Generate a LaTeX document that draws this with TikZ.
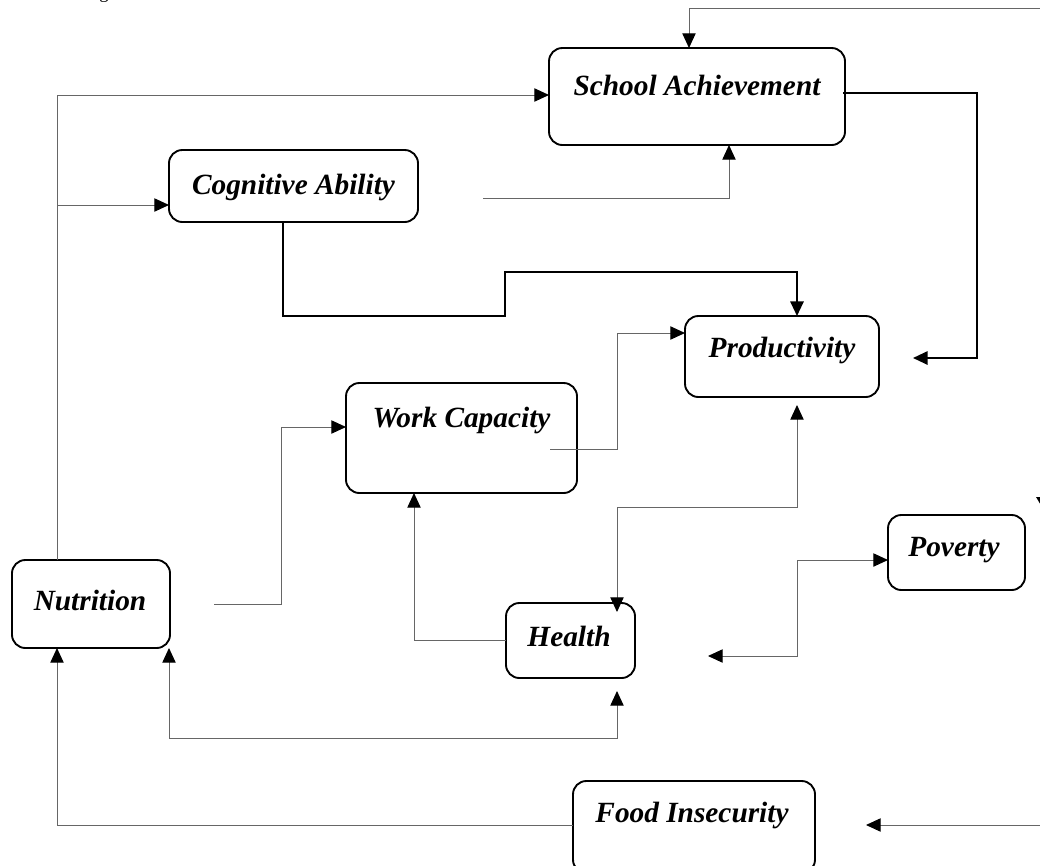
\documentclass[tikz,border=0pt]{standalone}
\usepackage{fontspec}
\setmainfont{Liberation Serif}
\usetikzlibrary{arrows.meta}
\begin{document}
\begin{tikzpicture}[x=0.75pt,y=-0.75pt,
  boxnode/.style={draw=black,line width=1.4pt,rounded corners=10pt,inner sep=0pt,outer sep=0pt},
  lbl/.style={font=\fontsize{22}{26}\selectfont\bfseries\itshape,inner sep=0pt},
  tipp/.style={-{Triangle[length=11pt,width=10pt,color=black]}},
  tipb/.style={{Triangle[length=11pt,width=10pt,color=black]}-{Triangle[length=11pt,width=10pt,color=black]}},
  gl/.style={draw=black!60,line width=0.75pt},
  bl/.style={draw=black,line width=1.5pt}]
\useasboundingbox (0,0) rectangle (1040,865);
% boxes
\node[boxnode,minimum width=296*0.75pt,minimum height=97*0.75pt] (sa) at (697,96.5) {};
\node[lbl] (saT) at (697,85) {School Achievement};
\node[boxnode,minimum width=249*0.75pt,minimum height=72*0.75pt] (cg) at (293.5,186) {};
\node[lbl] (cgT) at (293.5,187) {Cognitive Ability};
\node[boxnode,minimum width=194*0.75pt,minimum height=81*0.75pt] (pr) at (782,356.5) {};
\node[lbl] (prT) at (782,350) {Productivity};
\node[boxnode,minimum width=231*0.75pt,minimum height=110*0.75pt] (wc) at (461.5,438) {};
\node[lbl] (wcT) at (461.5,420) {Work Capacity};
\node[boxnode,minimum width=137*0.75pt,minimum height=75*0.75pt] (po) at (956.5,552.5) {};
\node[lbl] (poT) at (954,550) {Poverty};
\node[boxnode,minimum width=158*0.75pt,minimum height=88*0.75pt] (nu) at (91,604) {};
\node[lbl] (nuT) at (90,600) {Nutrition};
\node[boxnode,minimum width=129*0.75pt,minimum height=75*0.75pt] (he) at (570.5,640.5) {};
\node[lbl] (heT) at (569,636) {Health};
\node[boxnode,minimum width=242*0.75pt,minimum height=92*0.75pt] (fi) at (694,827) {};
\node[lbl] (fiT) at (692,815) {Food Insecurity};
% caption fragment
\node[font=\fontsize{14}{16}\selectfont,anchor=base,inner sep=0pt] (cap) at (104,-2) {g};
% free ends
\coordinate (topR) at (1050,8);
\coordinate (cgR) at (483,198);
\coordinate (saE) at (843,93);
\coordinate (saTip) at (913,358);
\coordinate (wcR) at (550,449);
\coordinate (nuR) at (214,604);
\coordinate (prTip) at (797,405);
\coordinate (heTop) at (617,612);
\coordinate (poTip) at (708,656);
\coordinate (heBot) at (617,691);
\coordinate (botR) at (1050,825);
\coordinate (fiTip) at (866,825);
% connectors
\draw[gl,tipp] (topR) -| (sa.north -| 689,0);
\draw[gl,tipp] (nu.north -| 57,0) |- (sa.west |- 0,95);
\draw[gl,tipp] (57,205) -- (cg.west |- 0,205);
\draw[gl,tipp] (cgR) -| (sa.south -| 729,0);
\draw[bl,tipp] (cg.south -| 283,0) -- (283,316) -- (505,316) -- (505,272) -| (pr.north -| 797,0);
\draw[bl,tipp] (saE) -- (977,93) -- (977,358) -- (saTip);
\draw[gl,tipp] (wcR) -- (617,449) -- (617,333) -- (pr.west |- 0,333);
\draw[gl,tipp] (nuR) -- (281,604) -- (281,427) -- (wc.west |- 0,427);
\draw[gl,tipp] (he.west) -| (wc.south -| 414,0);
\draw[gl,tipb] (prTip) -- (797,507) -- (617,507) -- (heTop);
\draw[gl,tipb] (poTip) -- (797,656) -- (797,560) -- (po.west |- 0,560);
\draw[gl,tipb] (nu.south -| 169,0) -- (169,738) -- (617,738) -- (heBot);
\draw[gl,tipp] (fi.west |- 0,825) -| (nu.south -| 57,0);
\draw[gl,tipp] (botR) -- (fiTip);
% arrowhead fragment at right edge
\fill[black] (1036,497) -- (1054,497) -- (1045,512) -- cycle;
\end{tikzpicture}
\end{document}
